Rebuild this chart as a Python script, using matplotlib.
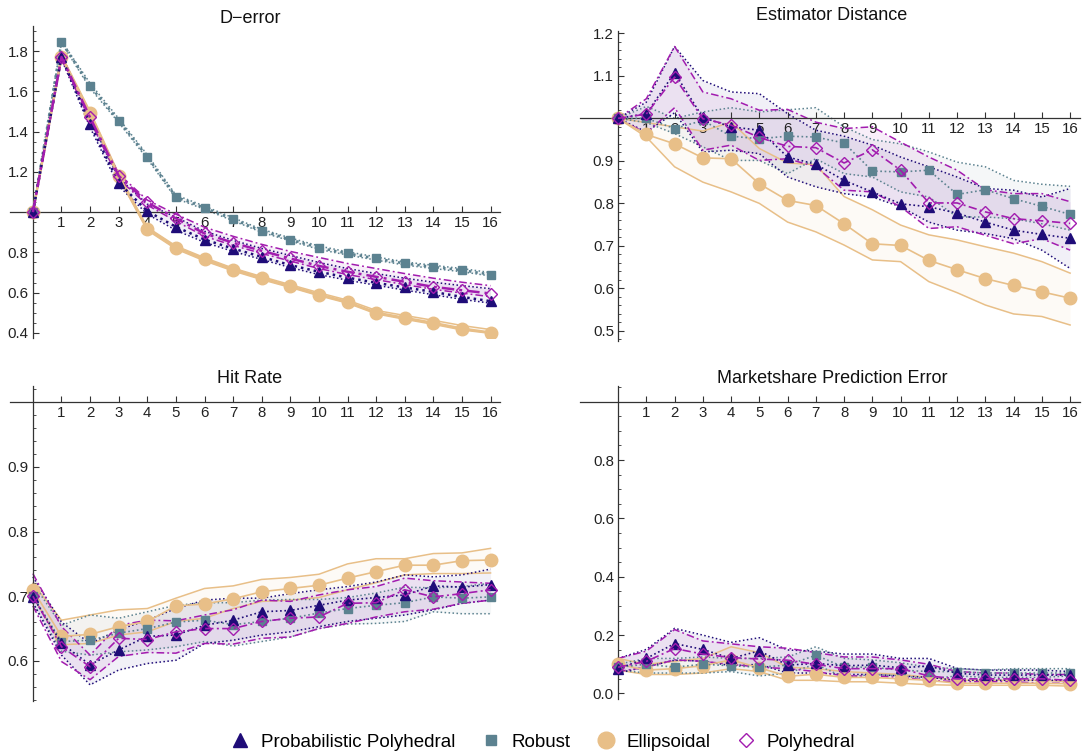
import matplotlib.pyplot as plt
from matplotlib.lines import Line2D
from matplotlib.ticker import MultipleLocator

plt.rcParams['font.family'] = ['Liberation Sans', 'DejaVu Sans']

steps = list(range(17))
xtick_labels = [str(i) for i in range(1, 17)]
names = ['Probabilistic Polyhedral', 'Robust', 'Ellipsoidal', 'Polyhedral']

# ---- D-error ----
derr_pp = [1.0, 1.77, 1.437, 1.146, 1.005, 0.927, 0.864, 0.819, 0.778, 0.737, 0.704, 0.675, 0.649, 0.626, 0.604, 0.579, 0.558]
derr_pp_hi = [1.0, 1.78, 1.46, 1.17, 1.04, 0.975, 0.905, 0.86, 0.82, 0.785, 0.75, 0.72, 0.695, 0.672, 0.652, 0.635, 0.62]
derr_pp_lo = [1.0, 1.76, 1.42, 1.13, 0.99, 0.91, 0.85, 0.805, 0.765, 0.725, 0.69, 0.662, 0.637, 0.613, 0.59, 0.567, 0.548]
derr_rob = [1.0, 1.846, 1.626, 1.454, 1.275, 1.076, 1.022, 0.964, 0.907, 0.864, 0.823, 0.795, 0.770, 0.745, 0.728, 0.712, 0.690]
derr_rob_hi = [1.0, 1.85, 1.64, 1.465, 1.285, 1.085, 1.03, 0.972, 0.915, 0.872, 0.832, 0.803, 0.778, 0.753, 0.736, 0.72, 0.70]
derr_rob_lo = [1.0, 1.84, 1.615, 1.445, 1.265, 1.068, 1.014, 0.957, 0.9, 0.857, 0.815, 0.787, 0.762, 0.737, 0.72, 0.704, 0.683]
derr_ell = [1.0, 1.772, 1.490, 1.180, 0.917, 0.824, 0.766, 0.715, 0.672, 0.632, 0.591, 0.554, 0.501, 0.475, 0.450, 0.422, 0.402]
derr_ell_hi = [1.0, 1.78, 1.50, 1.19, 0.925, 0.832, 0.774, 0.722, 0.68, 0.64, 0.6, 0.563, 0.512, 0.487, 0.463, 0.437, 0.417]
derr_ell_lo = [1.0, 1.765, 1.48, 1.17, 0.91, 0.817, 0.758, 0.708, 0.665, 0.626, 0.585, 0.548, 0.495, 0.468, 0.443, 0.415, 0.398]
derr_poly = [1.0, 1.77, 1.47, 1.18, 1.048, 0.969, 0.894, 0.848, 0.808, 0.770, 0.733, 0.704, 0.679, 0.654, 0.629, 0.612, 0.596]
derr_poly_hi = [1.0, 1.78, 1.48, 1.19, 1.06, 0.99, 0.925, 0.88, 0.84, 0.805, 0.775, 0.745, 0.72, 0.695, 0.672, 0.652, 0.635]
derr_poly_lo = [1.0, 1.76, 1.455, 1.165, 1.035, 0.955, 0.88, 0.835, 0.795, 0.757, 0.72, 0.69, 0.665, 0.64, 0.617, 0.598, 0.58]

# ---- Estimator Distance ----
est_pp = [1.0, 1.011, 1.107, 1.002, 0.98, 0.972, 0.909, 0.892, 0.854, 0.827, 0.799, 0.792, 0.777, 0.756, 0.737, 0.727, 0.718]
est_pp_hi = [1.0, 1.038, 1.169, 1.089, 1.062, 1.058, 1.011, 0.972, 0.958, 0.937, 0.909, 0.886, 0.862, 0.835, 0.831, 0.815, 0.835]
est_pp_lo = [1.0, 0.968, 1.013, 0.921, 0.925, 0.917, 0.862, 0.839, 0.823, 0.815, 0.792, 0.756, 0.737, 0.729, 0.717, 0.69, 0.647]
est_rob = [1.0, 1.0, 0.976, 0.995, 0.958, 0.952, 0.958, 0.956, 0.942, 0.876, 0.874, 0.878, 0.821, 0.832, 0.811, 0.793, 0.774]
est_rob_hi = [1.0, 1.028, 1.0, 1.015, 1.025, 1.015, 1.02, 1.025, 0.98, 0.95, 0.94, 0.921, 0.897, 0.886, 0.854, 0.845, 0.84]
est_rob_lo = [1.0, 0.99, 0.964, 0.933, 0.901, 0.901, 0.87, 0.905, 0.87, 0.862, 0.827, 0.815, 0.768, 0.768, 0.764, 0.752, 0.737]
est_ell = [1.0, 0.962, 0.94, 0.907, 0.905, 0.846, 0.807, 0.795, 0.752, 0.705, 0.701, 0.666, 0.644, 0.623, 0.607, 0.592, 0.577]
est_ell_hi = [1.0, 0.99, 0.98, 0.97, 0.991, 0.929, 0.895, 0.891, 0.816, 0.785, 0.749, 0.726, 0.714, 0.698, 0.683, 0.663, 0.636]
est_ell_lo = [1.0, 0.956, 0.886, 0.85, 0.827, 0.8, 0.756, 0.733, 0.702, 0.667, 0.663, 0.616, 0.59, 0.561, 0.54, 0.534, 0.514]
est_poly = [1.0, 1.01, 1.097, 0.999, 0.984, 0.955, 0.934, 0.931, 0.895, 0.926, 0.878, 0.801, 0.801, 0.780, 0.764, 0.759, 0.753]
est_poly_hi = [1.0, 1.046, 1.169, 1.062, 1.046, 1.019, 1.021, 0.991, 0.976, 0.98, 0.944, 0.909, 0.878, 0.832, 0.823, 0.823, 0.804]
est_poly_lo = [1.0, 0.965, 1.025, 0.925, 0.937, 0.901, 0.905, 0.886, 0.831, 0.827, 0.792, 0.741, 0.745, 0.725, 0.705, 0.717, 0.69]

# ---- Hit Rate ----
hit_pp = [0.699, 0.627, 0.594, 0.617, 0.638, 0.64, 0.655, 0.663, 0.676, 0.678, 0.686, 0.694, 0.698, 0.702, 0.716, 0.714, 0.718]
hit_pp_hi = [0.73, 0.66, 0.627, 0.648, 0.663, 0.681, 0.694, 0.697, 0.697, 0.704, 0.71, 0.715, 0.722, 0.733, 0.73, 0.733, 0.742]
hit_pp_lo = [0.69, 0.609, 0.563, 0.586, 0.596, 0.601, 0.627, 0.632, 0.64, 0.645, 0.653, 0.661, 0.666, 0.671, 0.679, 0.689, 0.694]
hit_rob = [0.70, 0.63, 0.632, 0.643, 0.65, 0.66, 0.663, 0.656, 0.661, 0.666, 0.674, 0.681, 0.686, 0.69, 0.699, 0.697, 0.699]
hit_rob_hi = [0.72, 0.655, 0.671, 0.666, 0.676, 0.686, 0.69, 0.69, 0.694, 0.695, 0.695, 0.698, 0.705, 0.714, 0.713, 0.715, 0.72]
hit_rob_lo = [0.69, 0.615, 0.609, 0.614, 0.617, 0.622, 0.63, 0.623, 0.63, 0.637, 0.65, 0.657, 0.658, 0.661, 0.676, 0.673, 0.673]
hit_ell = [0.71, 0.638, 0.641, 0.653, 0.661, 0.685, 0.688, 0.696, 0.707, 0.712, 0.717, 0.728, 0.738, 0.748, 0.748, 0.755, 0.756]
hit_ell_hi = [0.72, 0.663, 0.671, 0.679, 0.681, 0.697, 0.712, 0.716, 0.726, 0.729, 0.734, 0.75, 0.758, 0.758, 0.766, 0.767, 0.774]
hit_ell_lo = [0.70, 0.625, 0.627, 0.64, 0.645, 0.661, 0.666, 0.681, 0.692, 0.694, 0.698, 0.71, 0.721, 0.733, 0.735, 0.735, 0.736]
hit_poly = [0.70, 0.622, 0.591, 0.635, 0.633, 0.645, 0.65, 0.65, 0.661, 0.666, 0.668, 0.689, 0.69, 0.71, 0.699, 0.704, 0.71]
hit_poly_hi = [0.735, 0.653, 0.609, 0.655, 0.663, 0.662, 0.671, 0.679, 0.694, 0.692, 0.702, 0.71, 0.715, 0.728, 0.724, 0.722, 0.72]
hit_poly_lo = [0.685, 0.599, 0.571, 0.607, 0.613, 0.612, 0.627, 0.626, 0.635, 0.637, 0.65, 0.658, 0.668, 0.676, 0.68, 0.689, 0.694]

# ---- Marketshare Prediction Error ----
ms_pp = [0.085, 0.12, 0.171, 0.151, 0.12, 0.146, 0.097, 0.103, 0.095, 0.097, 0.088, 0.094, 0.069, 0.063, 0.063, 0.063, 0.063]
ms_pp_hi = [0.12, 0.151, 0.223, 0.2, 0.175, 0.191, 0.149, 0.145, 0.135, 0.135, 0.12, 0.12, 0.086, 0.08, 0.08, 0.08, 0.075]
ms_pp_lo = [0.07, 0.091, 0.114, 0.111, 0.095, 0.10, 0.07, 0.07, 0.065, 0.065, 0.06, 0.055, 0.045, 0.045, 0.045, 0.045, 0.045]
ms_rob = [0.09, 0.10, 0.09, 0.10, 0.095, 0.09, 0.097, 0.131, 0.09, 0.09, 0.08, 0.075, 0.075, 0.07, 0.07, 0.07, 0.07]
ms_rob_hi = [0.10, 0.12, 0.12, 0.125, 0.12, 0.12, 0.125, 0.16, 0.12, 0.115, 0.105, 0.09, 0.085, 0.08, 0.085, 0.085, 0.085]
ms_rob_lo = [0.08, 0.07, 0.07, 0.07, 0.075, 0.06, 0.07, 0.10, 0.055, 0.065, 0.06, 0.05, 0.06, 0.055, 0.055, 0.055, 0.06]
ms_ell = [0.10, 0.08, 0.085, 0.095, 0.115, 0.088, 0.059, 0.066, 0.055, 0.055, 0.05, 0.045, 0.035, 0.035, 0.035, 0.035, 0.033]
ms_ell_hi = [0.12, 0.10, 0.11, 0.12, 0.16, 0.14, 0.09, 0.085, 0.075, 0.07, 0.065, 0.055, 0.045, 0.045, 0.045, 0.045, 0.04]
ms_ell_lo = [0.08, 0.065, 0.065, 0.07, 0.085, 0.075, 0.045, 0.045, 0.04, 0.04, 0.035, 0.03, 0.028, 0.028, 0.028, 0.028, 0.025]
ms_poly = [0.09, 0.11, 0.154, 0.135, 0.123, 0.118, 0.114, 0.10, 0.085, 0.085, 0.085, 0.06, 0.05, 0.05, 0.05, 0.05, 0.045]
ms_poly_hi = [0.12, 0.145, 0.219, 0.18, 0.17, 0.16, 0.155, 0.14, 0.125, 0.125, 0.115, 0.10, 0.075, 0.07, 0.07, 0.065, 0.065]
ms_poly_lo = [0.075, 0.09, 0.115, 0.11, 0.10, 0.09, 0.085, 0.075, 0.06, 0.06, 0.055, 0.045, 0.04, 0.04, 0.04, 0.035, 0.035]

c_pp = '#1f0c78'
c_rob = '#5c8290'
c_ell = '#e8bf88'
c_poly = '#a21caf'
dot = (0, (1, 1.6))
dashdot = (0, (5, 2, 1.2, 2))

# draw order: ellipsoidal, robust, prob. polyhedral, polyhedral
styles = {
    'ell': dict(color=c_ell, ls='-', marker='o', ms=9, mfc=c_ell, mec=c_ell, fill=0.07),
    'rob': dict(color=c_rob, ls=dot, marker='s', ms=6, mfc=c_rob, mec=c_rob, fill=0.06),
    'pp': dict(color=c_pp, ls=dot, marker='^', ms=7.5, mfc=c_pp, mec=c_pp, fill=0.06),
    'poly': dict(color=c_poly, ls=dashdot, marker='D', ms=6, mfc='none', mec=c_poly, fill=0.07),
}

fig = plt.figure(figsize=(10.84, 7.55), dpi=100)


def panel(rect, title, title_xy, series, xlim, ylim, yticks, yminor, lw):
    ax = fig.add_axes(rect)
    for key in ['ell', 'rob', 'pp', 'poly']:
        mean, hi, lo = series[key]
        st = styles[key]
        ax.fill_between(steps, lo, hi, color=st['color'], alpha=st['fill'], lw=0, zorder=1)
        ax.plot(steps, hi, color=st['color'], ls=st['ls'], lw=1.1, zorder=2)
        ax.plot(steps, lo, color=st['color'], ls=st['ls'], lw=1.1, zorder=2)
    for z, key in enumerate(['ell', 'rob', 'pp', 'poly']):
        mean, hi, lo = series[key]
        st = styles[key]
        ax.plot(steps, mean, color=st['color'], ls=st['ls'], lw=lw, marker=st['marker'],
                ms=st['ms'], mfc=st['mfc'], mec=st['mec'], mew=1.0, zorder=3 + z)
    ax.set_xlim(*xlim)
    ax.set_ylim(*ylim)
    ax.spines['left'].set_position(('data', 0))
    ax.spines['bottom'].set_position(('data', 1.0))
    ax.spines['top'].set_visible(False)
    ax.spines['right'].set_visible(False)
    for s in ['left', 'bottom']:
        ax.spines[s].set_color('#333333')
        ax.spines[s].set_linewidth(0.9)
    ax.set_xticks(range(1, 17))
    ax.set_xticklabels(xtick_labels)
    ax.set_yticks(yticks)
    ax.set_yticklabels(['%.1f' % v for v in yticks])
    ax.yaxis.set_minor_locator(MultipleLocator(yminor))
    ax.tick_params(which='major', direction='in', length=4, width=0.8, labelsize=10.8,
                   colors='#333333', labelcolor='#222222', pad=3)
    ax.tick_params(which='minor', direction='in', length=2, width=0.6, colors='#333333')
    ax.patch.set_alpha(0)
    fig.text(title_xy[0], title_xy[1], title, ha='center', va='center', fontsize=13, color='#111111')
    return ax


panel([0.00923, 0.5523, 0.452, 0.4132], 'D\u2212error', (0.2306, 0.976),
      {'pp': (derr_pp, derr_pp_hi, derr_pp_lo), 'rob': (derr_rob, derr_rob_hi, derr_rob_lo),
       'ell': (derr_ell, derr_ell_hi, derr_ell_lo), 'poly': (derr_poly, derr_poly_hi, derr_poly_lo)},
      (-0.8, 16.33), (0.375, 1.924), [0.4, 0.6, 0.8, 1.2, 1.4, 1.6, 1.8], 0.05, 1.8)

panel([0.535, 0.5487, 0.4613, 0.4106], 'Estimator Distance', (0.7675, 0.980),
      {'pp': (est_pp, est_pp_hi, est_pp_lo), 'rob': (est_rob, est_rob_hi, est_rob_lo),
       'ell': (est_ell, est_ell_hi, est_ell_lo), 'poly': (est_poly, est_poly_hi, est_poly_lo)},
      (-1.35, 16.35), (0.477, 1.206), [0.5, 0.6, 0.7, 0.8, 0.9, 1.1, 1.2], 0.02, 1.2)

panel([0.00923, 0.0715, 0.452, 0.4172], 'Hit Rate', (0.2306, 0.4993),
      {'pp': (hit_pp, hit_pp_hi, hit_pp_lo), 'rob': (hit_rob, hit_rob_hi, hit_rob_lo),
       'ell': (hit_ell, hit_ell_hi, hit_ell_lo), 'poly': (hit_poly, hit_poly_hi, hit_poly_lo)},
      (-0.8, 16.33), (0.538, 1.025), [0.6, 0.7, 0.8, 0.9], 0.02, 1.2)

panel([0.535, 0.0738, 0.4613, 0.415], 'Marketshare Prediction Error', (0.7675, 0.4993),
      {'pp': (ms_pp, ms_pp_hi, ms_pp_lo), 'rob': (ms_rob, ms_rob_hi, ms_rob_lo),
       'ell': (ms_ell, ms_ell_hi, ms_ell_lo), 'poly': (ms_poly, ms_poly_hi, ms_poly_lo)},
      (-1.35, 16.35), (-0.02, 1.054), [0.0, 0.2, 0.4, 0.6, 0.8], 0.05, 1.2)

handles = [
    Line2D([], [], ls='none', marker='^', ms=10, color=c_pp),
    Line2D([], [], ls='none', marker='s', ms=7, color=c_rob),
    Line2D([], [], ls='none', marker='o', ms=12, color=c_ell),
    Line2D([], [], ls='none', marker='D', ms=7, mfc='none', mec=c_poly, mew=1.0),
]
fig.legend(handles, names, loc='center', bbox_to_anchor=(0.5, 0.017), ncol=4, frameon=False,
           fontsize=13.5, handletextpad=0.5, columnspacing=1.3, handlelength=1.2)

fig.savefig('out.png', dpi=100)
